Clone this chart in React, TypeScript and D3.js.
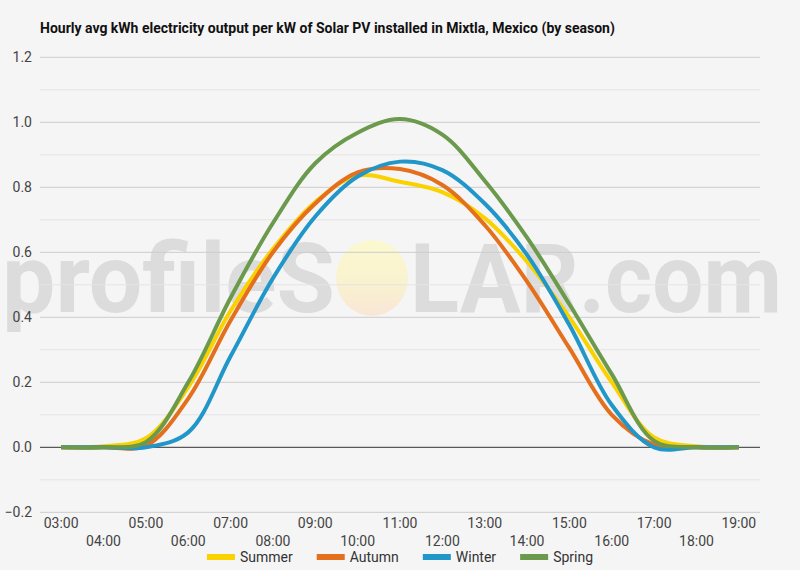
import { useEffect, useRef } from 'react'
import * as d3 from 'd3'

// Hours on the x axis
const HOURS = [
  '03:00', '04:00', '05:00', '06:00', '07:00', '08:00', '09:00', '10:00', '11:00',
  '12:00', '13:00', '14:00', '15:00', '16:00', '17:00', '18:00', '19:00',
]

// Hourly avg kWh per kW
const SUMMER = [0, 0.003, 0.028, 0.185, 0.42, 0.61, 0.755, 0.836, 0.817, 0.785, 0.705, 0.571, 0.4, 0.2, 0.03, 0.003, 0]
const AUTUMN = [0, 0, 0.005, 0.15, 0.39, 0.6, 0.75, 0.846, 0.856, 0.807, 0.684, 0.51, 0.305, 0.1, 0.008, 0, 0]
const WINTER = [0, 0, 0, 0.046, 0.28, 0.52, 0.71, 0.833, 0.879, 0.853, 0.75, 0.592, 0.376, 0.13, 0, 0, 0]
const SPRING = [0, 0, 0.016, 0.2, 0.46, 0.69, 0.874, 0.968, 1.01, 0.962, 0.82, 0.645, 0.44, 0.225, 0.02, 0, 0]

const SERIES = [
  { name: 'Summer', values: SUMMER, color: '#f9d200' },
  { name: 'Autumn', values: AUTUMN, color: '#e46f1c' },
  { name: 'Winter', values: WINTER, color: '#2196c9' },
  { name: 'Spring', values: SPRING, color: '#6b9a4d' },
]

const Y_TICKS = [-0.2, 0, 0.2, 0.4, 0.6, 0.8, 1.0, 1.2]

const TITLE = 'Hourly avg kWh electricity output per kW of Solar PV installed in Mixtla, Mexico (by season)'

const W = 800
const H = 570
const FONT = 'Roboto, sans-serif'

const App = () => {
  const svgRef = useRef<SVGSVGElement>(null)

  useEffect(() => {
    if (!svgRef.current) return
    const svg = d3.select(svgRef.current)
    svg.selectAll('*').remove()

    const left = 40
    const right = 760
    const top = 57.3
    const bottom = 512.3

    const x = d3.scaleBand<string>().domain(HOURS).range([left, right])
    const xc = (h: string) => (x(h) || 0) + x.bandwidth() / 2
    const y = d3.scaleLinear().domain([-0.2, 1.2]).range([bottom, top])

    svg.append('rect').attr('width', W).attr('height', H).attr('fill', '#f5f5f5')

    // Title
    svg.append('text')
      .attr('x', 40)
      .attr('y', 33)
      .attr('font-family', FONT)
      .attr('font-weight', 'bold')
      .attr('font-size', 14)
      .attr('fill', '#111')
      .text(TITLE)

    // Watermark
    const defs = svg.append('defs')
    const grad = defs.append('linearGradient')
      .attr('id', 'sun').attr('x1', 0).attr('y1', 0).attr('x2', 0).attr('y2', 1)
    grad.append('stop').attr('offset', '0%').attr('stop-color', '#fbf8cf')
    grad.append('stop').attr('offset', '55%').attr('stop-color', '#f9f2cf')
    grad.append('stop').attr('offset', '100%').attr('stop-color', '#f8e6d6')

    const wm = svg.append('g')
    wm.append('text')
      .attr('x', 2).attr('y', 312)
      .attr('font-family', FONT).attr('font-size', 96).attr('font-weight', 'bold')
      .attr('textLength', 333).attr('lengthAdjust', 'spacingAndGlyphs')
      .attr('fill', '#dcdcdc')
      .text('profileS')
    wm.append('ellipse')
      .attr('cx', 372).attr('cy', 278).attr('rx', 36).attr('ry', 38)
      .attr('fill', 'url(#sun)')
    wm.append('text')
      .attr('x', 410).attr('y', 312)
      .attr('font-family', FONT).attr('font-size', 96).attr('font-weight', 'bold')
      .attr('textLength', 372).attr('lengthAdjust', 'spacingAndGlyphs')
      .attr('fill', '#dcdcdc')
      .text('LAR.com')

    // Grid lines
    const minor = d3.range(-0.1, 1.2, 0.2)
    svg.append('g').selectAll('line').data(minor).enter().append('line')
      .attr('x1', left).attr('x2', right)
      .attr('y1', d => y(d)).attr('y2', d => y(d))
      .attr('stroke', '#e4e4e4').attr('stroke-width', 1)
    svg.append('g').selectAll('line').data(Y_TICKS.filter(d => d !== 0)).enter().append('line')
      .attr('x1', left).attr('x2', right)
      .attr('y1', d => y(d)).attr('y2', d => y(d))
      .attr('stroke', '#cccccc').attr('stroke-width', 1)

    // Y labels
    svg.append('g').selectAll('text').data(Y_TICKS).enter().append('text')
      .attr('x', 32)
      .attr('y', d => y(d))
      .attr('dy', '0.35em')
      .attr('text-anchor', 'end')
      .attr('font-family', FONT).attr('font-size', 14).attr('fill', '#444')
      .text(d => d3.format('.1f')(d))

    // X labels in two staggered rows
    svg.append('g').selectAll('text').data(HOURS).enter().append('text')
      .attr('x', d => xc(d))
      .attr('y', (d, i) => (i % 2 === 0 ? 528 : 546))
      .attr('text-anchor', 'middle')
      .attr('font-family', FONT).attr('font-size', 14).attr('fill', '#444')
      .text(d => d)

    // Zero line
    svg.append('line')
      .attr('x1', left).attr('x2', right)
      .attr('y1', y(0)).attr('y2', y(0))
      .attr('stroke', '#333').attr('stroke-width', 1)

    // Series
    const line = d3.line<number>()
      .x((d, i) => xc(HOURS[i]))
      .y(d => y(d))
      .curve(d3.curveCatmullRom.alpha(0.5))

    svg.append('g').selectAll('path').data(SERIES).enter().append('path')
      .attr('d', d => line(d.values) || '')
      .attr('fill', 'none')
      .attr('stroke', d => d.color)
      .attr('stroke-width', 4)
      .attr('stroke-linejoin', 'round')

    // Legend, centred under the chart
    const legend = svg.append('g')
    let cursor = 0
    SERIES.forEach(s => {
      const item = legend.append('g').attr('transform', `translate(${cursor},0)`)
      item.append('rect')
        .attr('x', 0).attr('y', -3).attr('width', 28).attr('height', 6)
        .attr('fill', s.color)
      const t = item.append('text')
        .attr('x', 33).attr('y', 0).attr('dy', '0.35em')
        .attr('font-family', FONT).attr('font-size', 14).attr('fill', '#333')
        .text(s.name)
      const tw = (t.node() as SVGTextElement).getComputedTextLength()
      cursor += 33 + tw + 24
    })
    const total = cursor - 24
    legend.attr('transform', `translate(${(W - total) / 2},557)`)
  }, [])

  return (
    <svg
      ref={svgRef}
      width={W}
      height={H}
      style={{ position: 'absolute', left: 0, top: 0, display: 'block' }}
    />
  )
}

export default App
